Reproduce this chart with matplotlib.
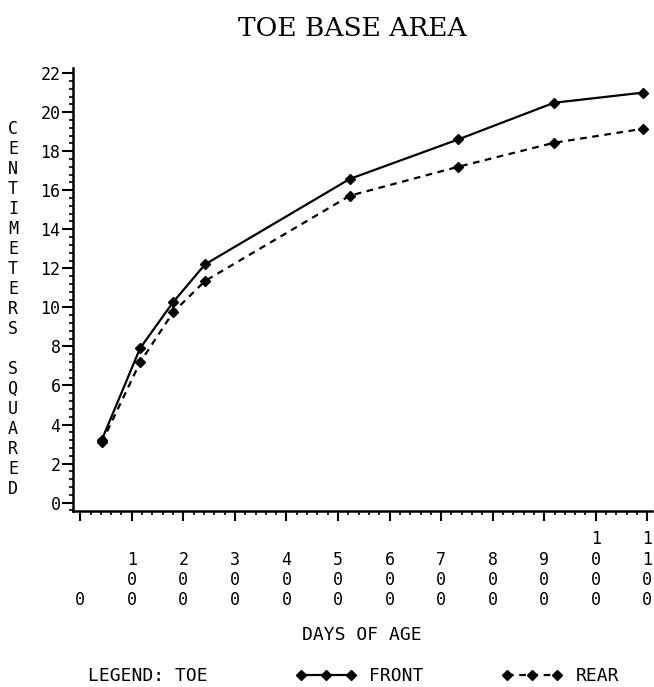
import matplotlib
matplotlib.use('Agg')
import matplotlib.pyplot as plt
from matplotlib.ticker import MultipleLocator

days = [42, 116, 180, 242, 523, 733, 919, 1092]
front = [3.22, 7.9, 10.26, 12.2, 16.58, 18.6, 20.48, 21.0]
rear = [3.08, 7.18, 9.74, 11.35, 15.72, 17.2, 18.43, 19.15]

x_ticks = list(range(0, 1101, 100))
y_ticks = list(range(0, 23, 2))

plt.rcParams['font.family'] = 'DejaVu Sans Mono'
plt.rcParams['font.size'] = 12

fig = plt.figure(figsize=(6.54, 6.87), dpi=100)
W, H = 654, 687
ax = fig.add_axes([73 / W, 1 - 511 / H, (652 - 73) / W, (511 - 68) / H])

ax.plot(days, front, color='black', lw=1.6, marker='D', ms=5.5, label='FRONT')
ax.plot(days, rear, color='black', lw=1.6, ls=(0, (3, 2.5)), marker='D', ms=5.5, label='REAR')

ax.set_xlim(-14, 1109)
ax.set_ylim(-0.43, 22.26)

for s in ['top', 'right']:
    ax.spines[s].set_visible(False)
for s in ['left', 'bottom']:
    ax.spines[s].set_linewidth(1.8)

# stacked digits, padded with blank lines so the bottoms line up
def stack(v):
    s = str(v)
    return '\n' * (4 - len(s)) + '\n'.join(s)

ax.set_xticks(x_ticks)
ax.set_xticklabels([stack(v) for v in x_ticks], linespacing=1.16)
ax.xaxis.set_minor_locator(MultipleLocator(20))
ax.set_yticks(y_ticks)
ax.yaxis.set_minor_locator(MultipleLocator(0.4))

ax.tick_params(axis='x', which='major', length=7, width=1.5, pad=7)
ax.tick_params(axis='x', which='minor', length=3, width=1.2)
ax.tick_params(axis='y', which='major', length=8, width=1.5, pad=1)
ax.tick_params(axis='y', which='minor', length=3, width=1.2)

fig.text(352 / W, 1 - 28 / H, 'TOE BASE AREA', family='DejaVu Serif',
         fontsize=19, ha='center', va='center')
fig.text(13 / W, 1 - 309 / H, '\n'.join('CENTIMETERS SQUARED'),
         ha='center', va='center', linespacing=1.14)
fig.text(362 / W, 1 - 635 / H, 'DAYS OF AGE', ha='center', va='center', fontsize=13)

fig.text(88 / W, 1 - 676 / H, 'LEGEND: TOE', ha='left', va='center', fontsize=13)
fig.legend(loc='center left', bbox_to_anchor=(288 / W, 1 - 676 / H), ncol=2,
           frameon=False, handlelength=3.4, numpoints=3, columnspacing=4.3,
           handletextpad=0.7, borderaxespad=0, fontsize=13)

fig.savefig('out.png', dpi=100)
